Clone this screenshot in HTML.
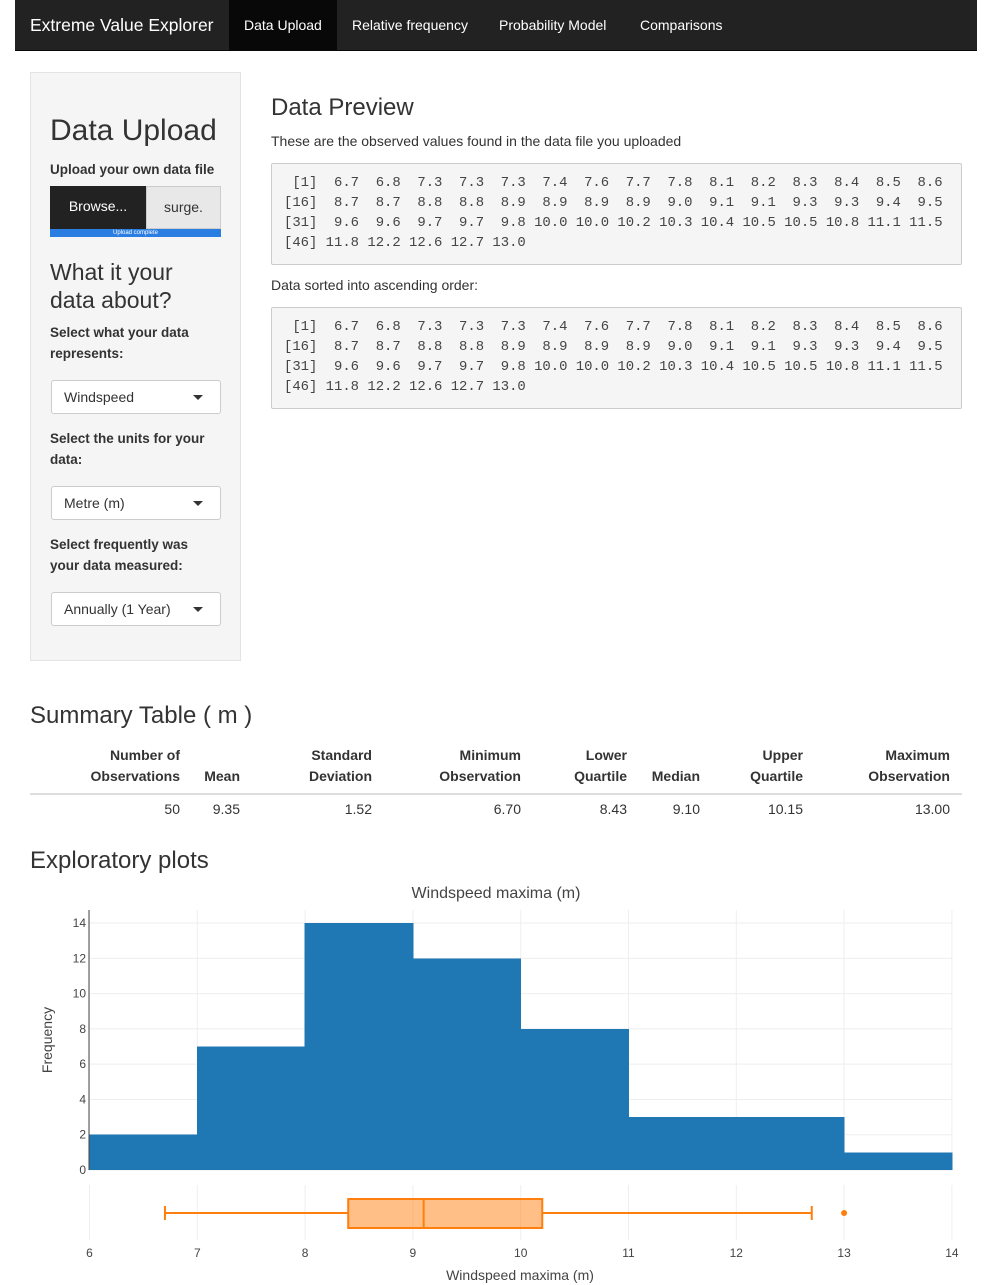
<!DOCTYPE html>
<html><head><meta charset="utf-8">
<style>
*{box-sizing:border-box;margin:0;padding:0}
body{width:992px;height:1285px;background:#fff;font-family:"Liberation Sans",sans-serif;color:#333;position:relative;overflow:hidden}
.abs{position:absolute}
.nav{left:15px;top:0;width:962px;height:51px;background:#222;border-bottom:1px solid #080808}
.nav span{position:absolute;top:0;height:50px;line-height:50px;color:#fff;font-size:14px;padding:0 15px;white-space:nowrap}
.brand{font-size:17.5px!important}
.side{left:30px;top:72px;width:211px;height:589px;background:#f5f5f5;border:1px solid #e3e3e3}
h1,h2{font-weight:300;position:absolute;color:#333;white-space:nowrap}
.lbl{position:absolute;font-weight:bold;font-size:13.5px;line-height:21px;color:#333;white-space:nowrap}
.sel{position:absolute;left:20px;width:170px;height:34px;background:#fff;border:1px solid #ccc;border-radius:3px;font-size:14px;line-height:32px;padding-left:12px}
.sel:after{content:"";position:absolute;right:17px;top:14px;border-left:5px solid transparent;border-right:5px solid transparent;border-top:5px solid #333}
pre{position:absolute;left:271px;width:691px;height:102px;background:#f5f5f5;border:1px solid #ccc;border-radius:2px;font-family:"Liberation Mono",monospace;font-size:13.9px;line-height:20px;color:#444;padding:9px 0 0 12px}
.th{position:absolute;font-weight:bold;font-size:14px;line-height:21px;text-align:right;white-space:nowrap}
.td{position:absolute;font-size:14px;text-align:right;top:801px}
</style></head><body>
<div class="abs nav">
<span class="brand" style="left:0">Extreme Value Explorer</span>
<span style="left:214px;background:#080808;width:108px">Data Upload</span>
<span style="left:322px">Relative frequency</span>
<span style="left:469px">Probability Model</span>
<span style="left:610px">Comparisons</span>
</div>

<div class="abs side">
<h1 style="left:19px;top:41px;font-size:30px">Data Upload</h1>
<div class="lbl" style="left:19px;top:86px">Upload your own data file</div>
<div class="abs" style="left:19px;top:113px;width:96px;height:43px;background:#222;color:#fff;font-size:14px;line-height:41px;text-align:center">Browse...</div>
<div class="abs" style="left:115px;top:113px;width:75px;height:43px;background:#e8e8e8;border:1px solid #ccc;font-size:14px;line-height:41px;text-align:center">surge.</div>
<div class="abs" style="left:19px;top:156px;width:171px;height:8px;background:#2a7de1;color:#fff;font-size:6px;line-height:8px;text-align:center">Upload complete</div>
<h2 style="left:19px;top:185px;font-size:23px;line-height:28px">What it your<br>data about?</h2>
<div class="lbl" style="left:19px;top:249px">Select what your data<br>represents:</div>
<div class="sel" style="top:307px">Windspeed</div>
<div class="lbl" style="left:19px;top:355px">Select the units for your<br>data:</div>
<div class="sel" style="top:413px">Metre (m)</div>
<div class="lbl" style="left:19px;top:461px">Select frequently was<br>your data measured:</div>
<div class="sel" style="top:519px">Annually (1 Year)</div>
</div>

<h2 style="left:271px;top:94px;font-size:24px">Data Preview</h2>
<div class="abs" style="left:271px;top:133px;font-size:14px">These are the observed values found in the data file you uploaded</div>
<pre style="top:163px"> [1]  6.7  6.8  7.3  7.3  7.3  7.4  7.6  7.7  7.8  8.1  8.2  8.3  8.4  8.5  8.6
[16]  8.7  8.7  8.8  8.8  8.9  8.9  8.9  8.9  9.0  9.1  9.1  9.3  9.3  9.4  9.5
[31]  9.6  9.6  9.7  9.7  9.8 10.0 10.0 10.2 10.3 10.4 10.5 10.5 10.8 11.1 11.5
[46] 11.8 12.2 12.6 12.7 13.0</pre>
<div class="abs" style="left:271px;top:277px;font-size:14px">Data sorted into ascending order:</div>
<pre style="top:307px"> [1]  6.7  6.8  7.3  7.3  7.3  7.4  7.6  7.7  7.8  8.1  8.2  8.3  8.4  8.5  8.6
[16]  8.7  8.7  8.8  8.8  8.9  8.9  8.9  8.9  9.0  9.1  9.1  9.3  9.3  9.4  9.5
[31]  9.6  9.6  9.7  9.7  9.8 10.0 10.0 10.2 10.3 10.4 10.5 10.5 10.8 11.1 11.5
[46] 11.8 12.2 12.6 12.7 13.0</pre>

<h2 style="left:30px;top:702px;font-size:24px">Summary Table ( m )</h2>
<div>
<div class="th" style="right:812px;top:745px">Number of<br>Observations</div>
<div class="th" style="right:752px;top:766px">Mean</div>
<div class="th" style="right:620px;top:745px">Standard<br>Deviation</div>
<div class="th" style="right:471px;top:745px">Minimum<br>Observation</div>
<div class="th" style="right:365px;top:745px">Lower<br>Quartile</div>
<div class="th" style="right:292px;top:766px">Median</div>
<div class="th" style="right:189px;top:745px">Upper<br>Quartile</div>
<div class="th" style="right:42px;top:745px">Maximum<br>Observation</div>
<div class="abs" style="left:30px;top:793px;width:932px;height:2px;background:#ddd"></div>
<div class="td" style="right:812px">50</div>
<div class="td" style="right:752px">9.35</div>
<div class="td" style="right:620px">1.52</div>
<div class="td" style="right:471px">6.70</div>
<div class="td" style="right:365px">8.43</div>
<div class="td" style="right:292px">9.10</div>
<div class="td" style="right:189px">10.15</div>
<div class="td" style="right:42px">13.00</div>
</div>

<h2 style="left:30px;top:847px;font-size:24px">Exploratory plots</h2>

<svg class="abs" style="left:0;top:870px" width="992" height="415" id="chart"></svg>
<script>
const binStarts=[6,7,8,9,10,11,13];
const binEnds=[7,8,9,10,11,13,14];
const counts=[2,7,14,12,8,3,1];
const xTicks=[6,7,8,9,10,11,12,13,14];
const yTicks=[0,2,4,6,8,10,12,14];
const boxStats=[6.7,8.4,9.1,10.2,12.7];
const outliers=[13.0];
const OY=870;
const X=v=>89.5+(v-6)*107.8;
const Y=v=>1170-OY-v*17.64;
const svg=document.getElementById('chart');
const NS='http://www.w3.org/2000/svg';
function mk(t,a,p){const e=document.createElementNS(NS,t);for(const k in a)e.setAttribute(k,a[k]);(p||svg).appendChild(e);return e;}
xTicks.forEach(v=>{
  const l=mk('line',{x1:X(v),x2:X(v),y1:910-OY,y2:1170-OY,stroke:'#eee'});
  
  
  const l2=mk('line',{x1:X(v),x2:X(v),y1:1185-OY,y2:1240-OY,stroke:'#eee'});
  
  
  const t=mk('text',{x:X(v),y:1257-OY,'text-anchor':'middle','font-size':12,fill:'#444'});
  t.textContent=v;
  
  
});
yTicks.forEach(v=>{
  const l=mk('line',{x1:89,x2:952,y1:Y(v),y2:Y(v),stroke:'#eee'});
  
  
  const t=mk('text',{x:86,y:Y(v)+4,'text-anchor':'end','font-size':12,fill:'#444'});
  t.textContent=v;
  
  
});
counts.forEach((c,i)=>{
  const r=mk('rect',{x:X(binStarts[i])-0.5,y:Y(c),width:X(binEnds[i])-X(binStarts[i])+1,height:Y(0)-Y(c),fill:'#1f77b4','shape-rendering':'crispEdges'});
  
  
});
const ax=mk('line',{x1:89,x2:89,y1:910-OY,y2:1170-OY,stroke:'#444'});


const cy=1213-OY, g=mk('g',{});


const o='#ff7f0e';
mk('line',{x1:X(boxStats[0]),x2:X(boxStats[1]),y1:cy,y2:cy,stroke:o,'stroke-width':2},g);
mk('line',{x1:X(boxStats[3]),x2:X(boxStats[4]),y1:cy,y2:cy,stroke:o,'stroke-width':2},g);
mk('line',{x1:X(boxStats[0]),x2:X(boxStats[0]),y1:cy-7,y2:cy+7,stroke:o,'stroke-width':2},g);
mk('line',{x1:X(boxStats[4]),x2:X(boxStats[4]),y1:cy-7,y2:cy+7,stroke:o,'stroke-width':2},g);
mk('rect',{x:X(boxStats[1]),y:cy-14,width:X(boxStats[3])-X(boxStats[1]),height:29,fill:'rgba(255,127,14,0.5)',stroke:o,'stroke-width':2},g);
mk('line',{x1:X(boxStats[2]),x2:X(boxStats[2]),y1:cy-14,y2:cy+15,stroke:o,'stroke-width':2},g);
outliers.forEach(v=>{
  const c=mk('circle',{cx:X(v),cy:cy,r:3,fill:o});
  
  
});
const tt=mk('text',{x:496,y:898-OY,'text-anchor':'middle','font-size':16,fill:'#444'});
tt.textContent='Windspeed maxima (m)';


const xt=mk('text',{x:520,y:1280-OY,'text-anchor':'middle','font-size':14,fill:'#444'});
xt.textContent='Windspeed maxima (m)';


const yt=mk('text',{x:0,y:0,'text-anchor':'middle','font-size':14,fill:'#444',transform:'translate(52,'+(1040-OY)+') rotate(-90)'});
yt.textContent='Frequency';


</script>
</body></html>
